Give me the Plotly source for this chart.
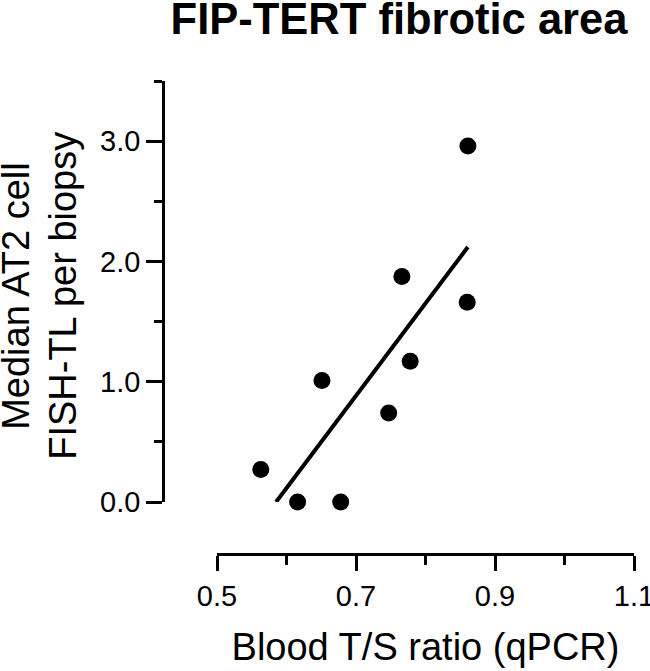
import plotly.graph_objects as go

# Data
ts_ratio = [0.563, 0.616, 0.678, 0.651, 0.747, 0.778, 0.766, 0.860, 0.861]
fish_tl = [0.27, 0.00, 0.00, 1.01, 0.74, 1.17, 1.875, 1.66, 2.96]
fit_x = [0.585, 0.861]
fit_y = [0.0, 2.12]
x_ticks = [0.5, 0.7, 0.9, 1.1]
y_ticks = [0.0, 1.0, 2.0, 3.0]
y_title_lines = ["Median AT2 cell", "FISH-TL per biopsy"]

FONT = "Liberation Sans, Arial, sans-serif"

fig = go.Figure()
fig.add_trace(go.Scatter(
    x=fit_x, y=fit_y, mode="lines",
    line=dict(color="black", width=4), cliponaxis=False, showlegend=False,
))
fig.add_trace(go.Scatter(
    x=ts_ratio, y=fish_tl, mode="markers",
    marker=dict(color="black", size=17, line=dict(width=0)),
    cliponaxis=False, showlegend=False,
))

W, H = 650, 671
L, R, T, B = 163, 16, 81, 117
pw = W - L - R
ph = H - T - B

fig.update_layout(
    width=W, height=H,
    margin=dict(l=L, r=R, t=T, b=B, pad=0, autoexpand=False),
    paper_bgcolor="white", plot_bgcolor="white",
    font=dict(family=FONT, color="black"),
    title=dict(
        text="<b>FIP-TERT fibrotic area</b>",
        font=dict(size=43.5, family=FONT, color="black"),
        x=399 / W, xref="container", xanchor="center",
        y=1 - 19 / H, yref="container", yanchor="middle",
    ),
    xaxis=dict(
        domain=[(217 - L) / pw, 1], anchor="free", position=0,
        automargin=False,
        range=[0.5, 1.1], tickvals=x_ticks, tickformat=".1f",
        ticklabeloverflow="allow",
        showgrid=False, zeroline=False,
        showline=True, linecolor="black", linewidth=2.5,
        ticks="outside", ticklen=15, tickwidth=2.5, tickcolor="black",
        tickfont=dict(size=29, family=FONT, color="black"),
        minor=dict(dtick=0.1, tick0=0.5, ticks="outside", ticklen=9,
                   tickwidth=2.5, tickcolor="black", showgrid=False),
        title=dict(text="Blood T/S ratio (qPCR)",
                   font=dict(size=38, family=FONT, color="black"),
                   standoff=22),
    ),
    yaxis=dict(
        domain=[(H - B - 502) / ph, 1], anchor="free", position=0,
        automargin=False,
        range=[0, 3.5], tickvals=y_ticks, tickformat=".1f",
        ticklabeloverflow="allow",
        showgrid=False, zeroline=False,
        showline=True, linecolor="black", linewidth=2.5,
        ticks="outside", ticklen=16, tickwidth=2.5, tickcolor="black",
        tickfont=dict(size=29, family=FONT, color="black"),
        minor=dict(dtick=0.5, tick0=0, ticks="outside", ticklen=8,
                   tickwidth=2.5, tickcolor="black", showgrid=False),
    ),
)

# Two-line y-axis title (placed as rotated text for exact line spacing)
for txt, cx in zip(y_title_lines, [15.8, 62.8]):
    fig.add_annotation(
        text=txt, textangle=-90, showarrow=False,
        xref="paper", yref="paper",
        x=(cx - L) / pw, y=(H - B - 296) / ph,
        xanchor="center", yanchor="middle",
        font=dict(size=38, family=FONT, color="black"),
    )

fig.write_html("out.html", config={"displayModeBar": False},
               post_script="document.body.style.margin='0';")
